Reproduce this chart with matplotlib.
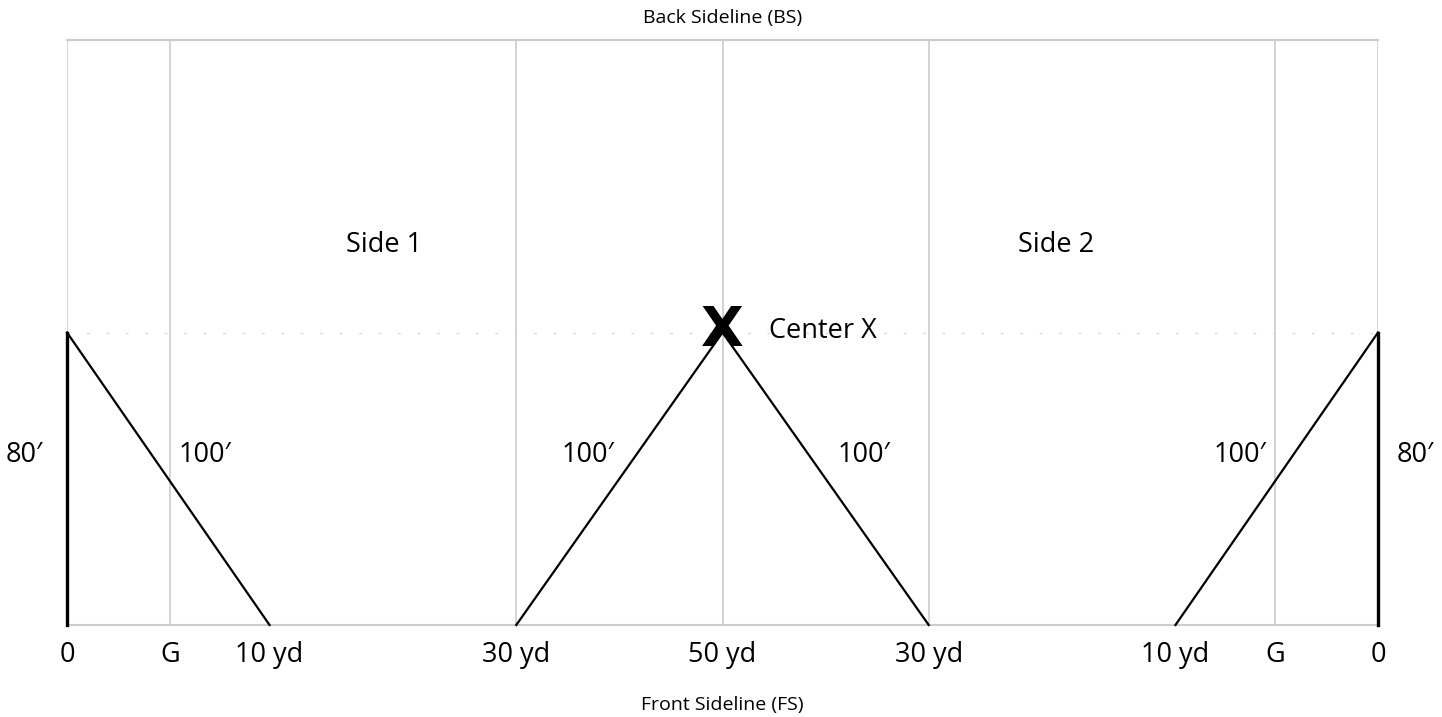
''' field layout diagram: yard lines, sidelines and 100 ft diagonals '''
import matplotlib.pyplot as plt

# positions along the field (feet from left end line, as drawn)
yard_pos = [0, 28, 55, 122, 178, 234, 301, 328, 356]
yard_labels = ['0', 'G', '10 yd', '30 yd', '50 yd', '30 yd', '10 yd', 'G', '0']
grid_pos = [0, 28, 122, 178, 234, 328, 356]  # light gray lines drawn
field_depth = 160
center_y = 80

# black measurement lines (x list, y list)
left_vert = ([0, 0], [0, 80])
left_diag = ([0, 55], [80, 0])
mid_diag = ([122, 178, 234], [0, 80, 0])
right_diag = ([301, 356], [0, 80])
right_vert = ([356, 356], [0, 80])

side_labels = ['Side 1', 'Side 2']
side_x = [86, 268.5]
side_y = 104
dist_labels = ['80\u2032', '100\u2032', '100\u2032', '100\u2032', '100\u2032', '80\u2032']
dist_x = [-11.5, 37.5, 141.5, 216.5, 318.5, 366]
dist_y = 46.5

FONT = ['Open Sans', 'DejaVu Sans']
GRAY = '#cccccc'
FS = 19.5


def main():
    '''main function'''
    plt.rcParams['font.family'] = FONT
    fig = plt.figure(figsize=(14.42, 7.17), dpi=100)
    ax = fig.add_axes([67 / 1442, 92 / 717, 1311 / 1442, 585 / 717])
    ax.set_xlim(0, 356)
    ax.set_ylim(0, field_depth)
    ax.axis('off')

    for x in grid_pos:
        ax.plot([x, x], [0, field_depth], color=GRAY, lw=1.2, zorder=1)
    ax.plot([0, 356], [0, 0], color=GRAY, lw=1.5, zorder=1, clip_on=False)
    ax.plot([0, 356], [field_depth, field_depth], color=GRAY, lw=1.5, zorder=1, clip_on=False)
    ax.plot([0, 356], [center_y, center_y], color='#d8d8d8', lw=1,
            linestyle=(0, (2, 12)), zorder=1)

    for xs, ys in [left_vert, right_vert]:
        ax.plot(xs, ys, color='black', lw=2.4, zorder=3, clip_on=False)
    for xs, ys in [left_diag, mid_diag, right_diag]:
        ax.plot(xs, ys, color='black', lw=1.6, zorder=3, clip_on=False)

    # center mark
    ax.text(178, center_y + 0.3, 'X', fontsize=40, fontweight='bold', ha='center', va='center',
            family=['DejaVu Sans'], zorder=4)
    ax.text(190.5, center_y + 0.5, 'Center X', fontsize=FS, ha='left', va='center')

    for lab, x in zip(side_labels, side_x):
        ax.text(x, side_y, lab, fontsize=FS, ha='center', va='center')
    for lab, x in zip(dist_labels, dist_x):
        ax.text(x, dist_y, lab, fontsize=FS, ha='center', va='center', clip_on=False)
    for lab, x in zip(yard_labels, yard_pos):
        ax.text(x, -8.2, lab, fontsize=FS, ha='center', va='center', clip_on=False)

    ax.text(178, 166, 'Back Sideline (BS)', fontsize=14, ha='center', va='center')
    ax.text(178, -22, 'Front Sideline (FS)', fontsize=14, ha='center', va='center')

    fig.savefig('out.png', dpi=100)


if __name__ == "__main__":
    main()
